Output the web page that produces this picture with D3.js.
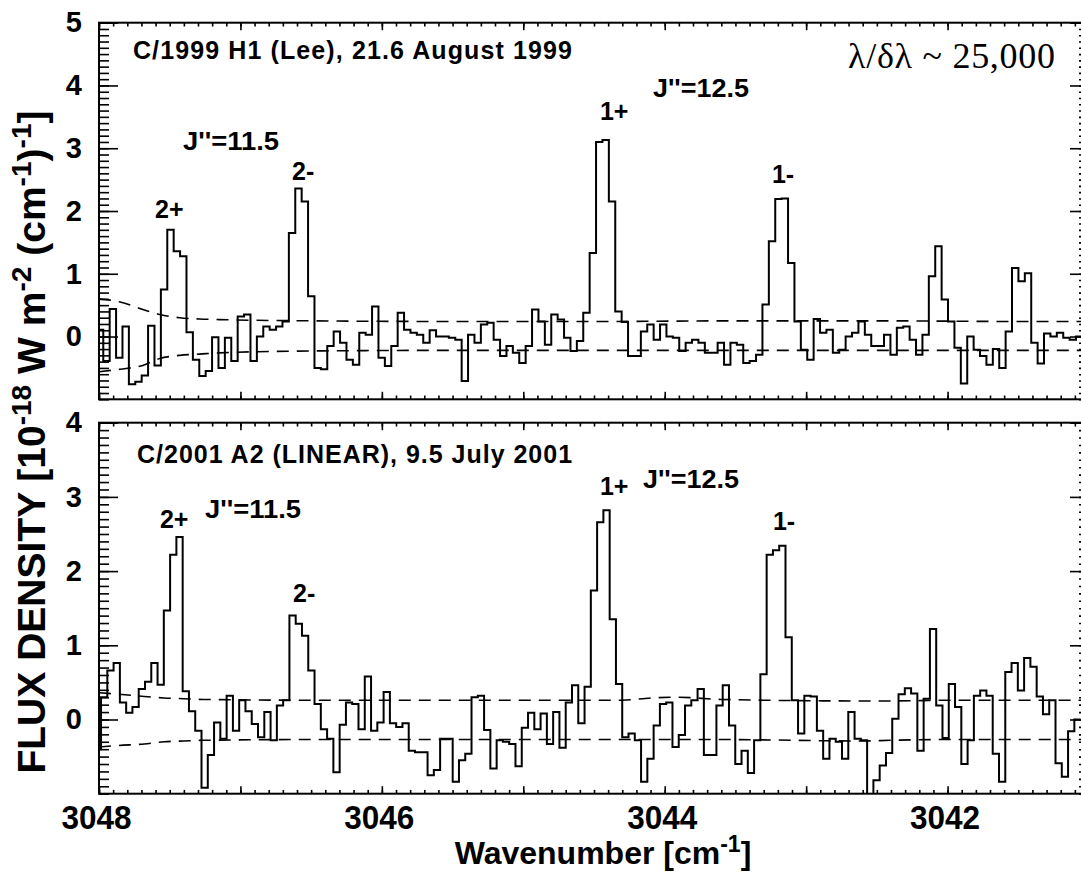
<!DOCTYPE html>
<html>
<head>
<meta charset="utf-8">
<script src="https://cdn.jsdelivr.net/npm/d3@7"></script>
<style>
  body { margin: 0; background: #fff; }
  svg text { font-family: "Liberation Sans", Arial, Helvetica, sans-serif; font-weight: bold; white-space: pre; }
</style>
</head>
<body>
<svg id="chart" width="1081" height="873"></svg>
<script>
// spectra: one flux value per bin, bins start at *Start and step down in wavenumber
var topStart = 3048.015, topStep = 0.04525;
var topFlux = [
  0.11, -0.39, 0.44, -0.34, 0.16, -0.76, -0.72, -0.62, 0.17, -0.46,
  0.75, 1.70, 1.36, 1.28, 0.07, -0.37, -0.63, -0.55, -0.01, -0.5,
  -0.02, -0.39, 0.32, 0.35, -0.39, 0.0, 0.16, 0.11, 0.16, 0.24,
  1.65, 2.36, 2.15, 0.64, -0.5, -0.52, -0.15, 0.08, -0.1, -0.37,
  -0.45, 0.06, 0.03, 0.48, -0.34, -0.47, -0.15, 0.38, 0.11, 0.06,
  0.03, -0.1, 0.1, 0.0, 0.0, -0.02, -0.05, -0.71, 0.03, -0.1,
  0.19, 0.22, -0.05, -0.31, -0.15, -0.26, -0.42, -0.15, 0.43, 0.24,
  -0.13, 0.35, 0.27, -0.02, -0.23, -0.07, 0.38, 1.33, 3.1, 3.13,
  2.15, 0.4, 0.23, -0.31, -0.31, 0.08, 0.19, -0.05, 0.19, 0.0,
  -0.02, -0.23, -0.1, -0.05, -0.1, -0.26, -0.26, -0.1, -0.45, -0.1,
  -0.13, -0.42, -0.39, -0.29, 0.51, 1.52, 2.19, 2.2, 1.17, 0.24,
  -0.21, -0.37, 0.28, 0.06, 0.11, -0.26, -0.21, 0.0, 0.06, 0.24,
  0.03, -0.15, -0.15, 0.03, -0.29, 0.14, 0.16, -0.05, -0.29, 0.03,
  0.96, 1.44, 0.59, 0.24, -0.18, -0.75, 0.0, -0.21, -0.31, -0.45,
  -0.2, -0.5, 0.08, 1.09, 0.88, 1.01, -0.1, -0.43, 0.05, 0.0,
  0.06, -0.02, -0.05, 0.0, 0.0
];

var botStart = 3048.03, botStep = 0.0444;
var botFlux = [
  -0.4, 0.30, 0.66, 0.76, 0.23, 0.09, 0.17, 0.41, 0.51, 0.76,
  0.47, 1.47, 2.22, 2.46, 0.38, 0.11, -0.15, -0.92, -0.48, -0.04,
  -0.26, 0.32, -0.15, 0.26, 0.11, -0.06, -0.24, 0.1, -0.28, 0.19,
  0.26, 1.40, 1.29, 1.13, 0.66, 0.21, -0.13, -0.26, -0.71, -0.07,
  0.23, 0.21, -0.13, 0.58, -0.15, -0.04, 0.37, -0.05, -0.1, -0.05,
  -0.42, -0.44, -0.44, -0.75, -0.68, -0.26, -0.26, -0.84, -0.55, -0.46,
  0.30, 0.32, -0.14, -0.66, -0.28, -0.3, -0.33, -0.63, -0.11, 0.09,
  -0.13, 0.08, -0.33, 0.1, -0.38, 0.23, 0.46, -0.05, 0.44, 1.74,
  2.66, 2.82, 1.35, 0.48, -0.24, -0.19, -0.28, -0.84, -0.53, -0.08,
  0.21, 0.23, -0.37, -0.21, 0.19, 0.26, 0.41, -0.48, -0.48, 0.19,
  0.46, -0.08, -0.6, -0.42, -0.72, -0.28, 0.61, 2.22, 2.28, 2.34,
  1.11, 0.26, -0.19, 0.32, 0.31, -0.15, -0.53, -0.26, -0.3, -0.53,
  0.1, -0.26, -0.28, -1.3, -0.82, -0.62, -0.45, 0.01, 0.34, 0.42,
  0.35, -0.42, 0.28, 1.22, 0.19, -0.25, 0.48, 0.17, -0.6, -0.28,
  0.32, 0.39, 0.32, -0.46, -0.84, 0.64, 0.76, 0.39, 0.83, 0.71,
  0.31, 0.07, 0.26, -0.59, -0.77, -0.16, 0.0
];

// +/- noise envelopes (dashed)
var topNoiseWn = [3048.0, 3047.85, 3047.69, 3047.57, 3047.43, 3047.29, 3047.15, 3046.5, 3045.5, 3044.5, 3043.5, 3042.5, 3041.5, 3041.0];
var topNoiseHi = [0.60, 0.55, 0.43, 0.35, 0.30, 0.28, 0.27, 0.25, 0.24, 0.24, 0.25, 0.25, 0.24, 0.24];
var topNoiseLo = [-0.56, -0.52, -0.46, -0.35, -0.30, -0.28, -0.26, -0.23, -0.22, -0.22, -0.22, -0.22, -0.22, -0.22];

var botNoiseWn = [3048.0, 3047.86, 3047.68, 3047.54, 3047.4, 3047.26, 3046.5, 3045.5, 3044.3, 3044.1, 3043.9, 3043.6, 3042.6, 3042.4, 3042.0, 3041.0];
var botNoiseHi = [0.36, 0.34, 0.31, 0.29, 0.28, 0.27, 0.26, 0.26, 0.26, 0.29, 0.30, 0.27, 0.25, 0.25, 0.26, 0.26];
var botNoiseLo = [-0.37, -0.35, -0.33, -0.30, -0.29, -0.28, -0.27, -0.27, -0.27, -0.27, -0.27, -0.27, -0.29, -0.28, -0.27, -0.27];

var xLabels = [3048, 3046, 3044, 3042];
var topYLabels = [0, 1, 2, 3, 4, 5];
var botYLabels = [0, 1, 2, 3, 4];

// annotations: text, and the wavenumber / flux where each one starts
var topTitle = "C/1999 H1 (Lee), 21.6 August 1999";
var botTitle = "C/2001 A2 (LINEAR), 9.5 July 2001";
var topNotes = ["J''=11.5", "2+", "2-", "1+", "J''=12.5", "1-"];
var topNoteWn = [3047.406, 3047.604, 3046.635, 3044.458, 3044.083, 3043.242];
var topNoteF = [2.97, 1.89, 2.49, 3.45, 3.81, 2.45];
var botNotes = ["J''=11.5", "2+", "2-", "1+", "J''=12.5", "1-"];
var botNoteWn = [3047.25, 3047.569, 3046.628, 3044.458, 3044.154, 3043.235];
var botNoteF = [2.72, 2.58, 1.58, 3.03, 3.12, 2.55];

var svg = d3.select("#chart");
var x = d3.scaleLinear().domain([3048, 3041]).range([99, 1089]);

function richText(sel, parts, size) {
  var t = sel.append("text").attr("font-size", size);
  var up = false;
  parts.forEach(function(p) {
    var s = t.append("tspan").text(p[0]);
    if (p[1]) {
      s.attr("font-size", size * 0.72);
      if (!up) { s.attr("dy", -size * 0.36); up = true; }
    } else if (up) {
      s.attr("dy", size * 0.36); up = false;
    }
  });
  return t;
}

function panel(p) {
  var y = d3.scaleLinear().domain(p.yDomain).range([p.y1, p.y0]);
  var g = svg.append("g");
  var clipId = "clip" + p.id;
  svg.append("clipPath").attr("id", clipId).append("rect")
    .attr("x", x(3048)).attr("y", p.y0)
    .attr("width", x(3041) - x(3048)).attr("height", p.y1 - p.y0);

  // noise envelopes
  var noiseLine = d3.line()
    .x(function(d, i) { return x(p.noiseWn[i]); })
    .y(function(d) { return y(d); })
    .curve(d3.curveMonotoneX);
  [p.noiseHi, p.noiseLo].forEach(function(arr) {
    g.append("path").attr("clip-path", "url(#" + clipId + ")")
      .attr("d", noiseLine(arr))
      .attr("fill", "none").attr("stroke", "#000")
      .attr("stroke-width", 1.6).attr("stroke-dasharray", "12,8");
  });

  // histogram spectrum
  var pts = p.flux.map(function(v, i) { return [p.start - i * p.step, v]; });
  pts.push([p.start - p.flux.length * p.step, p.flux[p.flux.length - 1]]);
  var stepLine = d3.line()
    .x(function(d) { return x(d[0]); })
    .y(function(d) { return y(d[1]); })
    .curve(d3.curveStepAfter);
  g.append("path").attr("clip-path", "url(#" + clipId + ")")
    .attr("d", stepLine(pts))
    .attr("fill", "none").attr("stroke", "#000").attr("stroke-width", 2);

  // frame
  g.append("rect").attr("x", x(3048)).attr("y", p.y0)
    .attr("width", x(3041) - x(3048)).attr("height", p.y1 - p.y0)
    .attr("fill", "none").attr("stroke", "#000").attr("stroke-width", 2);

  // ticks, all pointing inward
  function ticks(axis, tx, ty, len) {
    var a = g.append("g").attr("transform", "translate(" + tx + "," + ty + ")")
      .call(axis.tickSize(-len).tickSizeOuter(0).tickFormat(""));
    a.select(".domain").remove();
    a.selectAll("line").attr("stroke", "#000").attr("stroke-width", 1.6);
  }
  var minorX = d3.range(0, 71).map(function(i) { return 3048 - i * 0.1; });
  var majorX = d3.range(0, 8).map(function(i) { return 3048 - i; });
  var minorY = d3.range(p.yDomain[0] * 10, p.yDomain[1] * 10 + 1).map(function(i) { return i / 10; });
  ticks(d3.axisBottom(x).tickValues(minorX), 0, p.y1, 3.8);
  ticks(d3.axisBottom(x).tickValues(majorX), 0, p.y1, 7.5);
  ticks(d3.axisTop(x).tickValues(minorX), 0, p.y0, 3.8);
  ticks(d3.axisTop(x).tickValues(majorX), 0, p.y0, 7.5);
  ticks(d3.axisLeft(y).tickValues(minorY), x(3048), 0, 10);
  ticks(d3.axisLeft(y).tickValues(p.yLabels), x(3048), 0, 19);
  ticks(d3.axisRight(y).tickValues(minorY), x(3041), 0, 10);
  ticks(d3.axisRight(y).tickValues(p.yLabels), x(3041), 0, 19);

  // y tick labels
  var yl = g.append("g").attr("transform", "translate(" + x(3048) + ",0)")
    .call(d3.axisLeft(y).tickValues(p.yLabels).tickSize(0).tickPadding(17).tickFormat(d3.format("d")));
  yl.select(".domain").remove();
  yl.selectAll("line").remove();
  yl.selectAll("text").attr("font-size", 29).attr("fill", "#000");

  // title and line labels
  g.append("text").attr("x", x(p.titleWn)).attr("y", y(p.titleF))
    .attr("font-size", 25).attr("textLength", p.titleLen).attr("lengthAdjust", "spacing")
    .text(p.title);
  p.notes.forEach(function(t, i) {
    var tx = g.append("text").attr("x", x(p.noteWn[i])).attr("y", y(p.noteF[i]))
      .attr("font-size", 25).text(t);
    if (t.length > 3) tx.attr("textLength", 96).attr("lengthAdjust", "spacingAndGlyphs");
  });
  return y;
}

var yTop = panel({
  id: "top", y0: 22.7, y1: 399.3, yDomain: [-1, 5], yLabels: topYLabels,
  flux: topFlux, start: topStart, step: topStep,
  noiseWn: topNoiseWn, noiseHi: topNoiseHi, noiseLo: topNoiseLo,
  title: topTitle, titleWn: 3047.76, titleF: 4.42, titleLen: 439,
  notes: topNotes, noteWn: topNoteWn, noteF: topNoteF
});

var yBot = panel({
  id: "bot", y0: 422.7, y1: 793.7, yDomain: [-1, 4], yLabels: botYLabels,
  flux: botFlux, start: botStart, step: botStep,
  noiseWn: botNoiseWn, noiseHi: botNoiseHi, noiseLo: botNoiseLo,
  title: botTitle, titleWn: 3047.731, titleF: 3.46, titleLen: 435,
  notes: botNotes, noteWn: botNoteWn, noteF: botNoteF
});

// resolution note, serif as in the original
svg.append("text").attr("x", x(3042.704)).attr("y", yTop(4.28))
  .style("font-family", "'Liberation Serif', 'Times New Roman', serif")
  .style("font-weight", "normal")
  .attr("font-size", 36).attr("textLength", 207).attr("lengthAdjust", "spacing")
  .text("λ/δλ ~ 25,000");

// x tick labels under the lower panel
var xl = svg.append("g").attr("transform", "translate(-3,793.7)")
  .call(d3.axisBottom(x).tickValues(xLabels).tickSize(0).tickPadding(11).tickFormat(d3.format("d")));
xl.select(".domain").remove();
xl.selectAll("line").remove();
xl.selectAll("text").attr("font-size", 34).attr("fill", "#000")
  .attr("textLength", 70).attr("lengthAdjust", "spacingAndGlyphs");

// axis titles
richText(svg, [["Wavenumber [cm", 0], ["-1", 1], ["]", 0]], 32)
  .attr("x", 603).attr("y", 864).attr("text-anchor", "middle");

richText(svg.append("g").attr("transform", "translate(45,442) rotate(-90)"),
  [["FLUX DENSITY [10", 0], ["-18", 1], [" W m", 0], ["-2", 1], [" (cm", 0], ["-1", 1], [")", 0], ["-1", 1], ["]", 0]], 39)
  .attr("x", 0).attr("y", 0).attr("text-anchor", "middle");
</script>
</body>
</html>
